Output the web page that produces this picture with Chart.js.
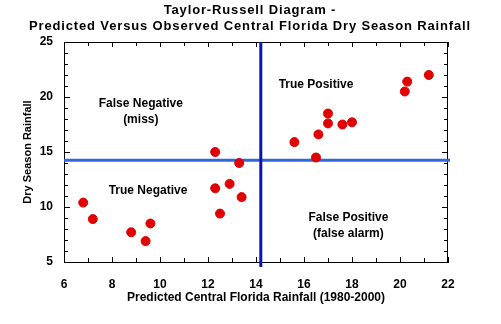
<!DOCTYPE html>
<html>
<head>
<meta charset="utf-8">
<script src="https://cdn.jsdelivr.net/npm/chart.js@4"></script>
<style>
  html, body { margin: 0; padding: 0; background: #fff; }
  #wrap { width: 501px; height: 324px; }
</style>
</head>
<body>
<div id="wrap"><canvas id="trChart" width="501" height="324"></canvas></div>
<script>
// predicted vs observed dry season rainfall, 1980-2000
const predicted = [6.8, 7.2, 8.8, 9.4, 9.6, 12.3, 12.3, 12.5, 12.9, 13.3, 13.4, 15.6, 16.5, 16.6, 17.0, 17.0, 17.6, 18.0, 20.2, 20.3, 21.2];
const observed  = [10.4, 8.9, 7.7, 6.9, 8.5, 15.0, 11.7, 9.4, 12.1, 14.0, 10.9, 15.9, 14.5, 16.6, 18.5, 17.6, 17.5, 17.7, 20.5, 21.4, 22.0];

// cutoffs splitting the quadrants
const predCutoff = 14.2;
const obsCutoff = 14.25;

const xTicks = [6, 8, 10, 12, 14, 16, 18, 20, 22];
const yTicks = [5, 10, 15, 20, 25];

const titleLines = ['Taylor-Russell Diagram -', 'Predicted Versus Observed Central Florida Dry Season Rainfall'];

const quadrantNames = [
    ['False Negative', '(miss)'],
    ['True Negative'],
    ['True Positive'],
    ['False Positive', '(false alarm)']
];
const quadrantAnchors = [[9.2, 19.4], [9.5, 11.45], [16.5, 21.15], [17.85, 9.0]];

const FONT = '"Liberation Sans", Arial, sans-serif';

const points = predicted.map((p, i) => ({ x: p, y: observed[i] }));

const decorations = {
    id: 'decorations',
    beforeDatasetsDraw(chart) {
        const { ctx, chartArea: a, scales: { x, y } } = chart;
        ctx.save();
        ctx.strokeStyle = '#000';
        ctx.lineWidth = 1;
        // top and right edges of the frame
        ctx.beginPath();
        ctx.moveTo(a.left, a.top + 0.5);
        ctx.lineTo(a.right, a.top + 0.5);
        ctx.moveTo(a.right - 0.5, a.top);
        ctx.lineTo(a.right - 0.5, a.bottom);
        ctx.stroke();
        // inward tick marks on all four sides
        ctx.beginPath();
        for (let v = 6; v <= 22; v++) {
            const px = Math.round(x.getPixelForValue(v)) + 0.5;
            const len = v % 2 === 0 ? 5 : 4;
            ctx.moveTo(px, a.bottom); ctx.lineTo(px, a.bottom - len);
            ctx.moveTo(px, a.top); ctx.lineTo(px, a.top + len);
        }
        for (let v = 5; v <= 25; v++) {
            const py = Math.round(y.getPixelForValue(v)) + 0.5;
            const len = v % 5 === 0 ? 6 : 4;
            ctx.moveTo(a.left, py); ctx.lineTo(a.left + len, py);
            ctx.moveTo(a.right, py); ctx.lineTo(a.right - len, py);
        }
        ctx.stroke();

        // quadrant labels
        ctx.fillStyle = '#000';
        ctx.font = 'bold 12px ' + FONT;
        ctx.textAlign = 'center';
        ctx.textBaseline = 'middle';
        quadrantNames.forEach((lines, i) => {
            const cx = x.getPixelForValue(quadrantAnchors[i][0]);
            const cy = y.getPixelForValue(quadrantAnchors[i][1]);
            lines.forEach((t, j) => ctx.fillText(t, cx, cy + j * 16));
        });

        // cutoff lines
        const hy = y.getPixelForValue(obsCutoff);
        ctx.strokeStyle = '#3366dd';
        ctx.lineWidth = 3;
        ctx.beginPath();
        ctx.moveTo(a.left, hy);
        ctx.lineTo(a.right + 2, hy);
        ctx.stroke();
        const vx = x.getPixelForValue(predCutoff);
        ctx.strokeStyle = '#0a14b0';
        ctx.beginPath();
        ctx.moveTo(vx, a.top);
        ctx.lineTo(vx, a.bottom + 5);
        ctx.stroke();

        // title
        ctx.font = 'bold 13px ' + FONT;
        ctx.letterSpacing = '0.85px';
        ctx.fillText(titleLines[0], 250, 10);
        ctx.fillText(titleLines[1], 250, 26);
        ctx.restore();
    }
};

new Chart(document.getElementById('trChart'), {
    type: 'scatter',
    data: {
        datasets: [{
            data: points,
            backgroundColor: '#e00000',
            borderColor: '#e00000',
            pointRadius: 4.5,
            pointHoverRadius: 4.5
        }]
    },
    options: {
        responsive: false,
        animation: false,
        events: [],
        layout: { padding: { top: 42, right: 53, left: 0, bottom: 0 } },
        plugins: { legend: { display: false }, tooltip: { enabled: false } },
        scales: {
            x: {
                type: 'linear',
                min: 6, max: 22,
                afterFit: s => { s.height = 62; },
                afterBuildTicks: s => { s.ticks = xTicks.map(v => ({ value: v })); },
                grid: { display: false, drawTicks: false },
                border: { display: true, color: '#000', width: 1 },
                ticks: { color: '#000', padding: 15, maxRotation: 0, font: { family: FONT, size: 12, weight: 'bold' } },
                title: {
                    display: true,
                    text: 'Predicted Central Florida Rainfall (1980-2000)',
                    color: '#000',
                    font: { family: FONT, size: 12, weight: 'bold' },
                    padding: { top: 0, bottom: 19 }
                }
            },
            y: {
                type: 'linear',
                min: 5, max: 25,
                afterFit: s => { s.width = 64; },
                afterBuildTicks: s => { s.ticks = yTicks.map(v => ({ value: v })); },
                grid: { display: false, drawTicks: false },
                border: { display: true, color: '#000', width: 1 },
                ticks: { color: '#000', padding: 11, font: { family: FONT, size: 12, weight: 'bold' } },
                title: {
                    display: true,
                    text: 'Dry Season Rainfall',
                    color: '#000',
                    font: { family: FONT, size: 11, weight: 'bold' },
                    padding: { top: 21, bottom: 0 }
                }
            }
        }
    },
    plugins: [decorations]
});
</script>
</body>
</html>
